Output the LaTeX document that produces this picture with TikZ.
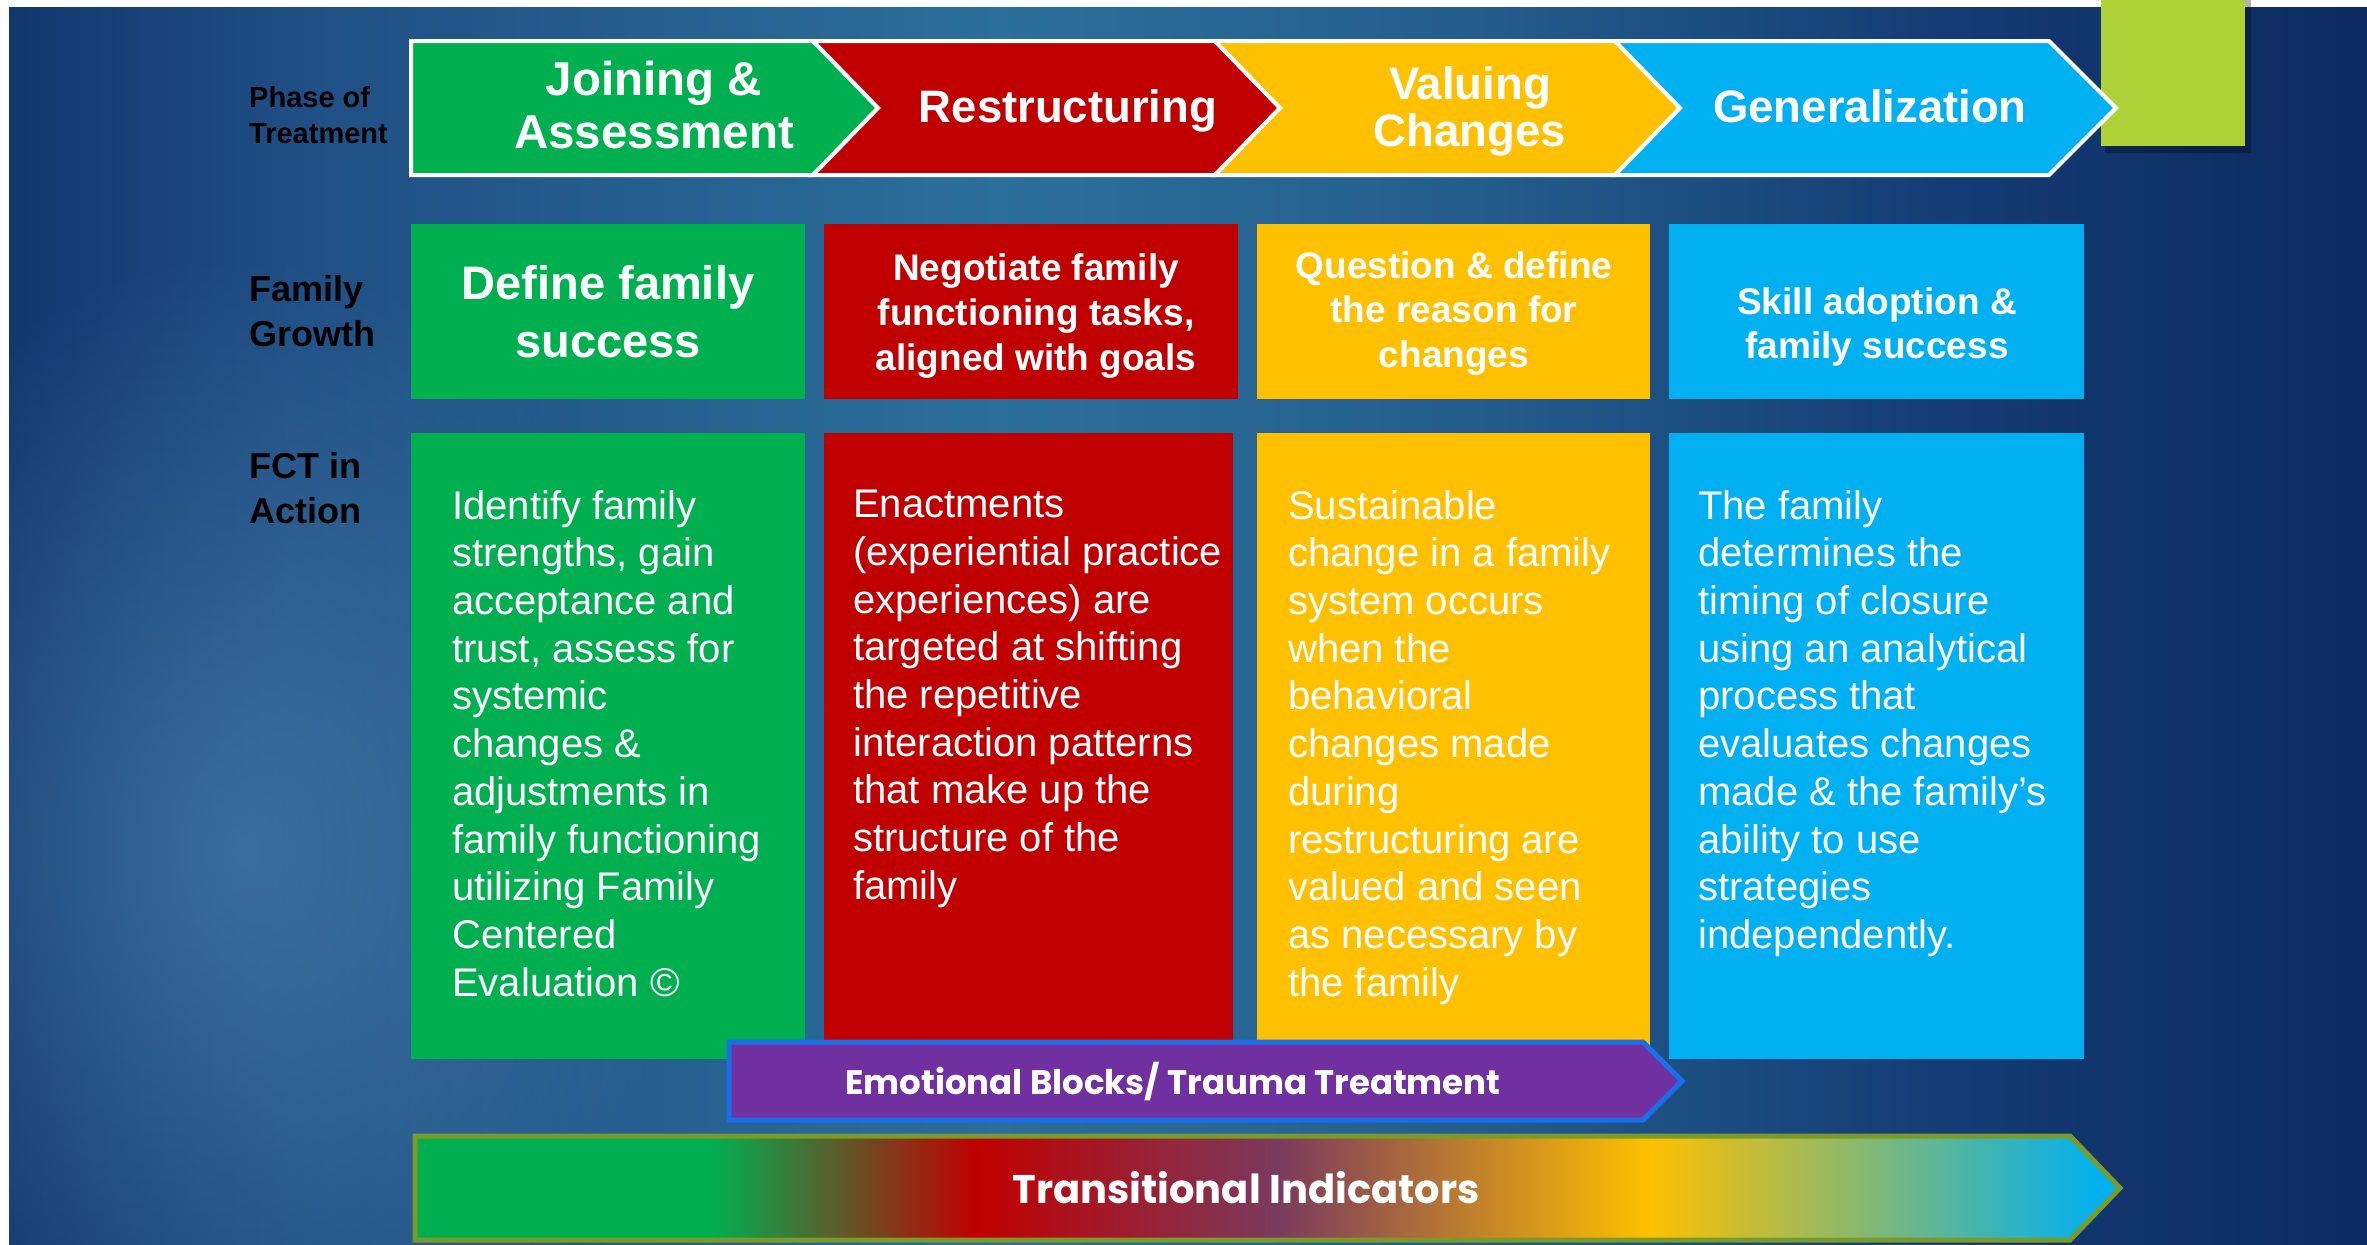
\documentclass[tikz,border=0pt]{standalone}
\usepackage{fontspec}
\setmainfont{Liberation Sans}
\newfontfamily\gothic{Poppins}
\usetikzlibrary{fadings}
\definecolor{cgreen}{HTML}{00B050}
\definecolor{cred}{HTML}{C00000}
\definecolor{cyellow}{HTML}{FFC000}
\definecolor{cblue}{HTML}{00B0F0}
\definecolor{cpurple}{HTML}{7030A0}
\definecolor{pborder}{HTML}{1A6EE8}
\definecolor{oborder}{HTML}{7A9A2A}
\definecolor{limec}{HTML}{AED237}
\definecolor{muddy}{HTML}{7A3A5E}
\definecolor{bgA}{HTML}{12376F}
\definecolor{bgB}{HTML}{1F4E84}
\definecolor{bgC}{HTML}{2C6F9A}
\definecolor{bgD}{HTML}{245D8C}
\definecolor{bgE}{HTML}{143C74}
\definecolor{bgF}{HTML}{0C2A60}
\definecolor{glowc}{HTML}{4E86AE}
\pgfdeclarehorizontalshading{bgshade}{100bp}{color(0bp)=(bgA); color(25bp)=(bgA); color(31bp)=(bgB); color(46bp)=(bgC); color(56bp)=(bgD); color(66bp)=(bgE); color(75bp)=(bgF); color(100bp)=(bgF)}
\pgfdeclarehorizontalshading{tishade}{100bp}{color(0bp)=(cgreen); color(33.7bp)=(cgreen); color(41.5bp)=(cred); color(50.3bp)=(muddy); color(61.2bp)=(cyellow); color(74.4bp)=(cblue); color(100bp)=(cblue)}
\tikzfading[name=glowfade, inner color=transparent!0, outer color=transparent!100]
\begin{document}
\begin{tikzpicture}[x=1pt,y=-1pt,
  chev/.style={draw=white, line width=4pt, line join=miter},
  phasetxt/.style={text=white, font=\bfseries\fontsize{45.5}{54}\selectfont, align=center, inner sep=0pt},
  headtxt/.style={text=white, font=\bfseries\fontsize{37}{44.7}\selectfont, align=center, inner sep=0pt},
  bodytxt/.style={text=white, font=\fontsize{40}{47.7}\selectfont, align=left, anchor=north west, inner sep=0pt},
  sidelbl/.style={text=black, font=\bfseries\fontsize{36}{45.5}\selectfont, align=left, anchor=north west, inner sep=0pt},
  bandtxt/.style={text=white, font=\gothic\bfseries, inner sep=0pt, anchor=base}]

\useasboundingbox (0,0) rectangle (2367,1245);
\fill[white] (0,0) rectangle (2367,1245);
\shade[shading=bgshade] (9,7) rectangle (2367,1245);
\begin{scope}
  \clip (9,7) rectangle (2367,1245);
  \fill[glowc, path fading=glowfade, fill opacity=0.6] (240,850) ellipse [x radius=460, y radius=600];
\end{scope}

% lime square with shadow
\fill[black, opacity=0.3] (2105,0) rectangle (2251,153);
\fill[limec] (2101,0) rectangle (2245,146);

% phase chevrons
\filldraw[chev, fill=cgreen] (411,41) -- (813,41) -- (878,108) -- (813,175) -- (411,175) -- cycle;
\filldraw[chev, fill=cred] (813,41) -- (1215,41) -- (1280,108) -- (1215,175) -- (813,175) -- (878,108) -- cycle;
\filldraw[chev, fill=cyellow] (1215,41) -- (1615,41) -- (1680,108) -- (1615,175) -- (1215,175) -- (1280,108) -- cycle;
\filldraw[chev, fill=cblue] (1615,41) -- (2049,41) -- (2116,108) -- (2049,175) -- (1615,175) -- (1680,108) -- cycle;

\node[phasetxt, font=\bfseries\fontsize{47.5}{53}\selectfont] (tjoin) at (654,105) {Joining \&\\Assessment};
\node[phasetxt, anchor=base] (trest) at (1068,122) {Restructuring};
\node[phasetxt, font=\bfseries\fontsize{45.5}{47}\selectfont] (tval) at (1470,111) {Valuing\\Changes};
\node[phasetxt, anchor=base] (tgen) at (1870,122) {Generalization};

% side labels
\node[sidelbl, font=\bfseries\fontsize{29}{36}\selectfont] (lphase) at (249,86) {Phase of\\Treatment};
\node[sidelbl] (lgrowth) at (249,275) {Family\\Growth};
\node[sidelbl] (lfct) at (249,452) {FCT in\\Action};

% family growth row
\fill[cgreen] (411,224) rectangle (805,399);
\fill[cred] (824,224) rectangle (1238,399);
\fill[cyellow] (1257,224) rectangle (1650,399);
\fill[cblue] (1669,224) rectangle (2084,399);

\node[headtxt, font=\bfseries\fontsize{47}{58}\selectfont] (hg) at (608,312) {Define family\\success};
\node[headtxt] (hr) at (1036,316) {Negotiate family\\functioning tasks,\\aligned with goals};
\node[headtxt] (hy) at (1454,313.5) {Question \& define\\the reason for\\changes};
\node[headtxt] (hb) at (1877,327) {Skill adoption \&\\family success};

% FCT in action row
\fill[cgreen] (411,433) rectangle (805,1059);
\fill[cred] (824,433) rectangle (1233,1050);
\fill[cyellow] (1257,433) rectangle (1650,1050);
\fill[cblue] (1669,433) rectangle (2084,1059);

\node[bodytxt] (bg) at (452,490) {Identify family\\strengths, gain\\acceptance and\\trust, assess for\\systemic\\changes \&\\adjustments in\\family functioning\\utilizing Family\\Centered\\Evaluation ©};
\node[bodytxt] (br) at (853,490) {Enactments\\(experiential practice\\experiences) are\\targeted at shifting\\the repetitive\\interaction patterns\\that make up the\\structure of the\\family};
\node[bodytxt] (by) at (1288,490) {Sustainable\\change in a family\\system occurs\\when the\\behavioral\\changes made\\during\\restructuring are\\valued and seen\\as necessary by\\the family};
\node[bodytxt] (bb) at (1698,490) {The family\\determines the\\timing of closure\\using an analytical\\process that\\evaluates changes\\made \& the family’s\\ability to use\\strategies\\independently.};

% emotional blocks arrow
\filldraw[draw=pborder, line width=5pt, fill=cpurple, line join=miter] (729,1042) -- (1643,1042) -- (1682,1081) -- (1643,1120) -- (729,1120) -- cycle;
\node[bandtxt, font=\gothic\bfseries\fontsize{34}{40}\selectfont] (temo) at (1173,1094) {Emotional Blocks/ Trauma Treatment};

% transitional indicators arrow
\shadedraw[shading=tishade, draw=oborder, line width=5pt, line join=miter] (415,1136) -- (2070,1136) -- (2120,1188) -- (2070,1240) -- (415,1240) -- cycle;
\node[bandtxt, font=\gothic\bfseries\fontsize{40}{48}\selectfont] (ttrans) at (1246,1203) {Transitional Indicators};
\end{tikzpicture}
\end{document}
